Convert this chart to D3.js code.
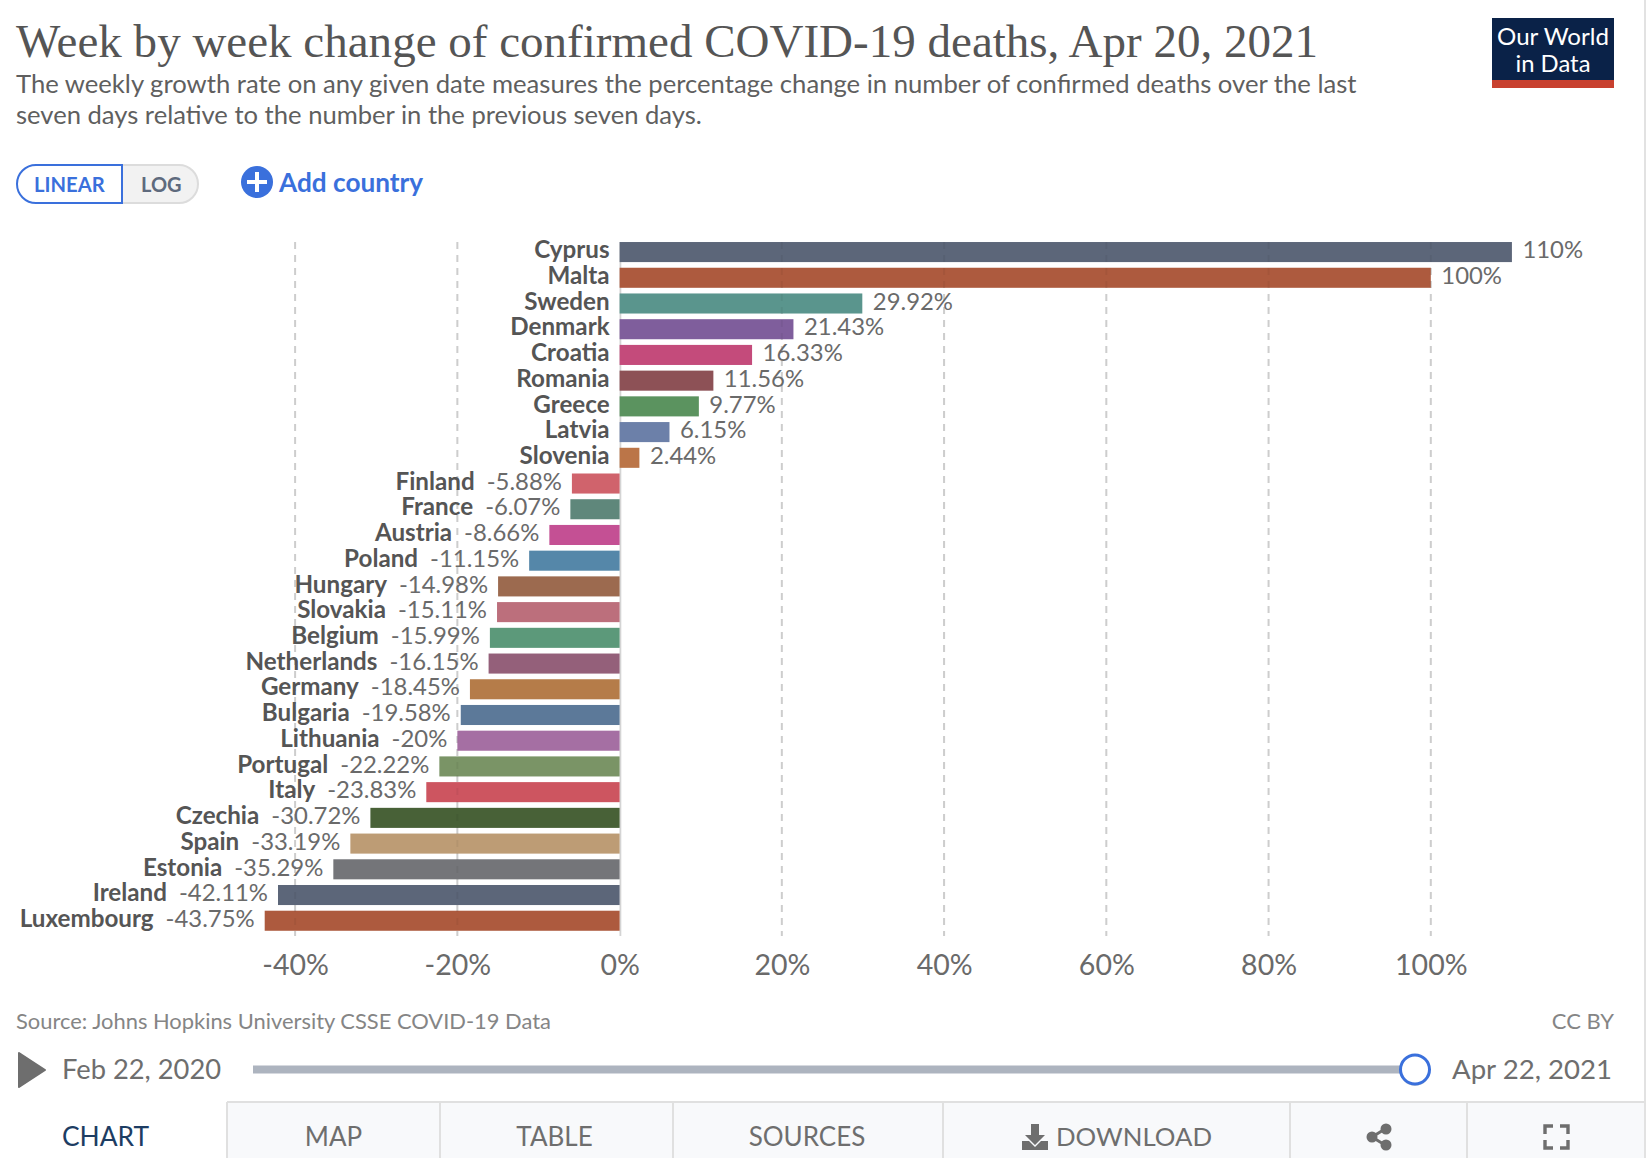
<!DOCTYPE html>
<html><head><meta charset="utf-8">
<script src="https://cdn.jsdelivr.net/npm/d3@7/dist/d3.min.js"></script>
<style>html,body{margin:0;padding:0;background:#fff}svg{display:block}text{font-family:Lato,sans-serif}</style>
</head><body><svg id="c" width="1652" height="1158"></svg>
<script>
const countries = ["Cyprus","Malta","Sweden","Denmark","Croatia","Romania","Greece","Latvia","Slovenia","Finland","France","Austria","Poland","Hungary","Slovakia","Belgium","Netherlands","Germany","Bulgaria","Lithuania","Portugal","Italy","Czechia","Spain","Estonia","Ireland","Luxembourg"];
const values = [110,100,29.92,21.43,16.33,11.56,9.77,6.15,2.44,-5.88,-6.07,-8.66,-11.15,-14.98,-15.11,-15.99,-16.15,-18.45,-19.58,-20,-22.22,-23.83,-30.72,-33.19,-35.29,-42.11,-43.75];
const colors = ["#5c6679","#ad5a3e","#5a958d","#7f5e9c","#c44b7b","#8d5156","#5b935f","#6c80a9","#bb7548","#d0636c","#5f877b","#c45094","#5587a9","#9c6a4f","#bc6f7c","#5c997a","#94607a","#b57c49","#5c7999","#a56fa3","#7a9466","#cd5560","#486137","#bd9c75","#747579","#5c6679","#ad5a3e"];
const tickValues = [-40,-20,0,20,40,60,80,100];
const tabs = ["MAP","TABLE","SOURCES"];

const svg = d3.select("#c");
const x = d3.scaleLinear().domain([0,100]).range([619.6,1430.8]);
const y = d3.scaleBand().domain(countries).range([239.2,933.6]).paddingInner(0.22).paddingOuter(0.11);
const top0 = 242, bot0 = 936;

function T(px,py,s,o={}){
  const t = svg.append("text").attr("x",px).attr("y",py).text(s)
    .attr("font-size",o.size||24).attr("fill",o.fill||"#666")
    .attr("font-weight",o.weight||400).attr("text-anchor",o.anchor||"start");
  if(o.family) t.style("font-family",o.family);
  if(o.len) t.attr("textLength",o.len).attr("lengthAdjust","spacingAndGlyphs");
  return t;
}

// header
T(16,57,"Week by week change of confirmed COVID-19 deaths, Apr 20, 2021",{size:47,fill:"#555",family:"'Liberation Serif',serif",len:1302});
T(16,93,"The weekly growth rate on any given date measures the percentage change in number of confirmed deaths over the last",{size:25.65,fill:"#5f5f5f"});
T(16,124,"seven days relative to the number in the previous seven days.",{size:25.6,fill:"#5f5f5f"});

// logo
svg.append("rect").attr("x",1492).attr("y",18).attr("width",122).attr("height",70).attr("fill","#0a2248");
svg.append("rect").attr("x",1492).attr("y",80).attr("width",122).attr("height",8).attr("fill","#c8412f");
T(1553,45,"Our World",{size:24,fill:"#fff",anchor:"middle",len:112});
T(1553,72,"in Data",{size:24,fill:"#fff",anchor:"middle",len:75});

// toggle and add
svg.append("path").attr("d","M122,165H36a19,19 0 0 0 0,38H122Z").attr("fill","#fff").attr("stroke","#3a70dc").attr("stroke-width",2);
svg.append("path").attr("d","M122,165H179a19,19 0 0 1 0,38H122Z").attr("fill","#f2f2f2").attr("stroke","#dcdcdc").attr("stroke-width",2);
svg.append("line").attr("x1",122).attr("x2",122).attr("y1",164).attr("y2",204).attr("stroke","#3a70dc").attr("stroke-width",2);
T(34,192,"LINEAR",{size:20.2,fill:"#3a70dc",weight:700});
T(141,192,"LOG",{size:20,fill:"#5e6a7d",weight:700});
svg.append("circle").attr("cx",257).attr("cy",182).attr("r",16).attr("fill","#3a70dc");
svg.append("path").attr("d","M257,172V192M247,182H267").attr("stroke","#fff").attr("stroke-width",4);
T(279,192,"Add country",{size:26.2,fill:"#3a70dc",weight:700});

// grid
svg.append("g").selectAll("line").data(tickValues.filter(d=>d!==0)).join("line")
  .attr("x1",d=>x(d)).attr("x2",d=>x(d)).attr("y1",top0).attr("y2",bot0)
  .attr("stroke","#d8d8d8").attr("stroke-width",2).attr("stroke-dasharray","7,6");
svg.append("line").attr("x1",x(0)+0.8).attr("x2",x(0)+0.8).attr("y1",top0).attr("y2",bot0).attr("stroke","#d4d4d4").attr("stroke-width",1.8);

// bars
svg.append("g").selectAll("rect").data(countries).join("rect")
  .attr("x",(d,i)=>Math.min(x(0),x(values[i])))
  .attr("y",d=>y(d))
  .attr("width",(d,i)=>Math.abs(x(values[i])-x(0)))
  .attr("height",y.bandwidth())
  .attr("fill",(d,i)=>colors[i]);

// faint grid through the bars
svg.append("g").selectAll("line").data(tickValues.filter(d=>d!==0)).join("line")
  .attr("x1",d=>x(d)).attr("x2",d=>x(d)).attr("y1",top0).attr("y2",bot0)
  .attr("stroke","#000").attr("stroke-opacity",0.05).attr("stroke-width",2).attr("stroke-dasharray","7,6");

// labels
countries.forEach((c,i)=>{
  const v = values[i], by = y(c)+y.bandwidth()/2+6.2;
  const val = T(0,by,`${v}%`,{size:23.9,fill:"#6a6a6a"});
  if(v>=0){
    val.attr("x",x(v)+10.5);
    T(x(0)-10,by,c,{size:24.2,fill:"#555",weight:700,anchor:"end"});
  } else {
    const end = x(v)-10;
    val.attr("text-anchor","end").attr("x",end);
    const w = val.node().getComputedTextLength();
    T(end-w-12,by,c,{size:24.2,fill:"#555",weight:700,anchor:"end"});
  }
});

// axis
const axis = svg.append("g").attr("transform","translate(0,936)")
  .call(d3.axisBottom(x).tickValues(tickValues).tickFormat(d=>`${d}%`).tickSize(0).tickPadding(18.5));
axis.select(".domain").remove();
axis.selectAll("text").attr("font-size",28.5).attr("fill","#6a6a6a").style("font-family","Lato,sans-serif");

// footer
T(16,1029,"Source: Johns Hopkins University CSSE COVID-19 Data",{size:21.9,fill:"#858585"});
T(1614,1029,"CC BY",{size:22,fill:"#858585",anchor:"end"});

// timeline
svg.append("path").attr("d","M19,1053L45,1070L19,1087Z").attr("fill","#6e6e6e").attr("stroke","#6e6e6e").attr("stroke-width",2).attr("stroke-linejoin","round");
T(62,1079,"Feb 22, 2020",{size:27.3,fill:"#6e6e6e"});
svg.append("rect").attr("x",253).attr("y",1065.5).attr("width",1161).attr("height",8).attr("fill","#adb4bf");
svg.append("circle").attr("cx",1415).attr("cy",1071).attr("r",15).attr("fill","#000").attr("fill-opacity",0.18);
svg.append("circle").attr("cx",1415).attr("cy",1069.5).attr("r",14.5).attr("fill","#fff").attr("stroke","#3a70dc").attr("stroke-width",3);
T(1612,1079,"Apr 22, 2021",{size:27.6,fill:"#6e6e6e",anchor:"end"});

// tabs
svg.append("rect").attr("x",227).attr("y",1102).attr("width",1418).attr("height",56).attr("fill","#f8f9fb");
svg.append("line").attr("x1",227).attr("x2",1645).attr("y1",1102).attr("y2",1102).attr("stroke","#e0e0e0").attr("stroke-width",2);
svg.selectAll(".tabdiv").data([227,440,673,943,1290,1467]).join("line").attr("class","tabdiv")
  .attr("x1",d=>d).attr("x2",d=>d).attr("y1",1102).attr("y2",1158).attr("stroke","#e0e0e0").attr("stroke-width",2);
svg.append("line").attr("x1",1645).attr("x2",1645).attr("y1",0).attr("y2",1158).attr("stroke","#e2e2e2").attr("stroke-width",2);
T(105.5,1146,"CHART",{size:26.4,fill:"#1d3d63",anchor:"middle"});
[333.5,554.5,807].forEach((cx,i)=>T(cx,1146,tabs[i],{size:26,fill:"#6e6e6e",anchor:"middle"}));
T(1056,1146,"DOWNLOAD",{size:25.8,fill:"#6e6e6e"});
// download icon
svg.append("path").attr("d","M1031,1124h8v11h6l-10,10l-10,-10h6Z").attr("fill","#6e6e6e");
svg.append("path").attr("d","M1022,1141h7l6,6l6,-6h7v9h-26Z").attr("fill","#6e6e6e");
// share icon
svg.append("path").attr("d","M1385,1129L1372,1137L1385,1145").attr("fill","none").attr("stroke","#6e6e6e").attr("stroke-width",3);
svg.selectAll(".sh").data([[1386,1129],[1372,1137],[1386,1145]]).join("circle").attr("class","sh")
  .attr("cx",d=>d[0]).attr("cy",d=>d[1]).attr("r",5.5).attr("fill","#6e6e6e");
// fullscreen icon
svg.append("path").attr("d","M1545,1134v-8h8M1560,1126h8v8M1568,1140v8h-8M1553,1148h-8v-8").attr("fill","none").attr("stroke","#6e6e6e").attr("stroke-width",3.4);
</script></body></html>
